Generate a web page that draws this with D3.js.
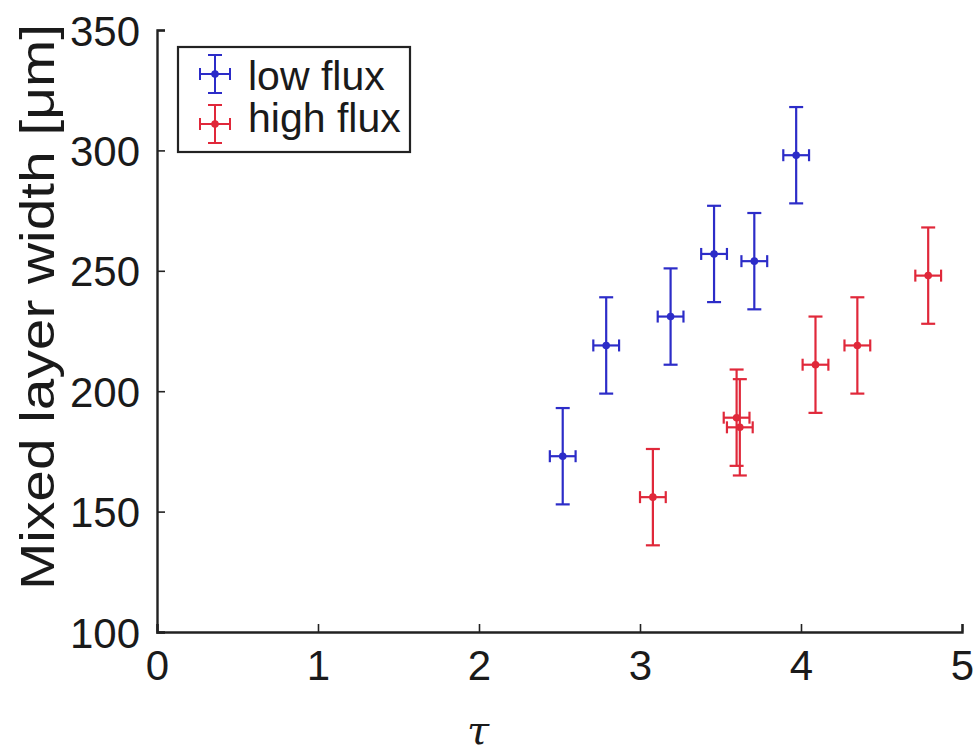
<!DOCTYPE html>
<html>
<head>
<meta charset="utf-8">
<script src="https://cdn.jsdelivr.net/npm/d3@7"></script>
<style>
  html, body { margin: 0; padding: 0; background: #fff; }
  svg { display: block; font-family: "Liberation Sans", Arial, Helvetica, sans-serif; }
</style>
</head>
<body>
<svg id="chart" width="973" height="754"></svg>
<script>
// Mixed layer width versus tau, two flux conditions
const lowTau   = [2.52, 2.79, 3.19, 3.46, 3.71, 3.97];
const lowWidth = [173, 219, 231, 257, 254, 298];
const highTau   = [3.08, 3.60, 3.62, 4.09, 4.35, 4.79];
const highWidth = [156, 189, 185, 211, 219, 248];
const tauErr = 0.08;
const widthErr = 20;
const xTicks = [0, 1, 2, 3, 4, 5];
const yTicks = [100, 150, 200, 250, 300, 350];
const seriesNames = ["low flux", "high flux"];
const seriesColors = ["#2c2cc8", "#e0283a"];

const svg = d3.select("#chart");

const x = d3.scaleLinear().domain([0, 5]).range([157, 962]);
const y = d3.scaleLinear().domain([100, 350]).range([632, 30]);

const axisColor = "#222";
const textColor = "#1a1a1a";

// axes with inward ticks
const gx = svg.append("g").attr("transform", `translate(0,${y(100)})`)
  .call(d3.axisBottom(x).tickValues(xTicks).tickSize(-8).tickPadding(18).tickFormat(d3.format("d")));
const gy = svg.append("g").attr("transform", `translate(${x(0)},0)`)
  .call(d3.axisLeft(y).tickValues(yTicks).tickSize(-8).tickPadding(17).tickFormat(d3.format("d")));

[gx, gy].forEach(g => {
  g.select(".domain").attr("stroke", axisColor).attr("stroke-width", 2.4);
  g.selectAll(".tick line").attr("stroke", axisColor).attr("stroke-width", 1.6);
  g.selectAll(".tick text").attr("fill", textColor).style("font-size", "42px")
    .style("font-family", "'Liberation Sans', Arial, sans-serif");
});
gx.selectAll(".tick text").attr("dy", "0.71em");
gy.selectAll(".tick text").attr("dy", "0.36em");

// axis labels
svg.append("text")
  .attr("transform", `translate(54,${(22 + 592) / 2}) rotate(-90)`)
  .attr("text-anchor", "middle")
  .attr("fill", textColor)
  .style("font-size", "48px")
  .attr("textLength", 566)
  .attr("lengthAdjust", "spacingAndGlyphs")
  .text("Mixed layer width [μm]");

svg.append("text")
  .attr("x", 478)
  .attr("y", 744)
  .attr("text-anchor", "middle")
  .attr("fill", textColor)
  .style("font-size", "40px")
  .style("font-style", "italic")
  .style("font-family", "'DejaVu Serif', 'Liberation Serif', serif")
  .text("τ");

// error-bar cross drawn at a pixel location
function errCross(g, cx, cy, x0, x1, y0, y1, color) {
  const capV = 7, capH = 6;
  g.append("line").attr("x1", cx).attr("x2", cx).attr("y1", y0).attr("y2", y1);
  g.append("line").attr("x1", cx - capV).attr("x2", cx + capV).attr("y1", y0).attr("y2", y0);
  g.append("line").attr("x1", cx - capV).attr("x2", cx + capV).attr("y1", y1).attr("y2", y1);
  g.append("line").attr("x1", x0).attr("x2", x1).attr("y1", cy).attr("y2", cy);
  g.append("line").attr("x1", x0).attr("x2", x0).attr("y1", cy - capH).attr("y2", cy + capH);
  g.append("line").attr("x1", x1).attr("x2", x1).attr("y1", cy - capH).attr("y2", cy + capH);
  g.append("circle").attr("cx", cx).attr("cy", cy).attr("r", 3.8).attr("fill", color).attr("stroke", "none");
}

const series = [
  { tau: lowTau, width: lowWidth },
  { tau: highTau, width: highWidth }
];

series.forEach((s, i) => {
  const g = svg.append("g").attr("stroke", seriesColors[i]).attr("stroke-width", 2.2).attr("fill", "none");
  s.tau.forEach((t, j) => {
    const w = s.width[j];
    errCross(g, x(t), y(w), x(t - tauErr), x(t + tauErr), y(w + widthErr), y(w - widthErr), seriesColors[i]);
  });
});

// legend
const leg = svg.append("g");
leg.append("rect").attr("x", 178).attr("y", 47).attr("width", 232).attr("height", 105)
  .attr("fill", "#fff").attr("stroke", "#222").attr("stroke-width", 2.2);
seriesNames.forEach((name, i) => {
  const cy = 74 + i * 50;
  const g = leg.append("g").attr("stroke", seriesColors[i]).attr("stroke-width", 2).attr("fill", "none");
  errCross(g, 215, cy, 200, 230, cy - 19, cy + 19, seriesColors[i]);
  leg.append("text").attr("x", 248).attr("y", 90 + i * 42)
    .attr("fill", textColor).style("font-size", "41px").text(name);
});
</script>
</body>
</html>
